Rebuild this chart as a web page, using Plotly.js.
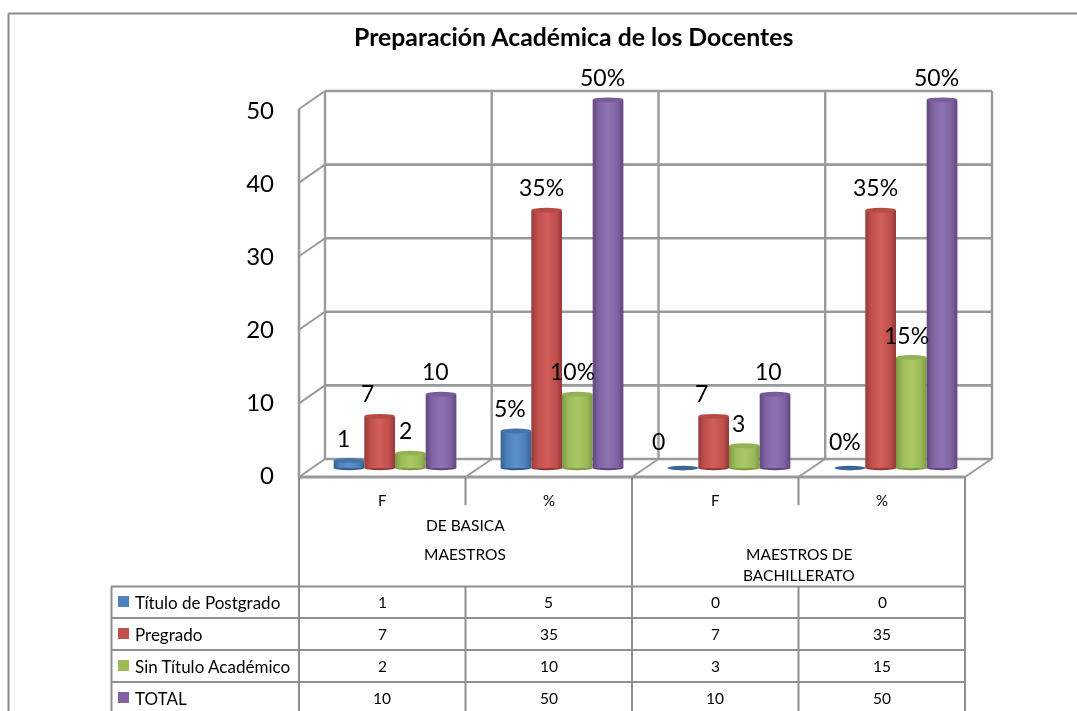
<!DOCTYPE html>
<html><head><meta charset="utf-8">
<script src="https://cdn.plot.ly/plotly-3.0.1.min.js"></script>
<style>html,body{margin:0;padding:0;background:#fff}#c{width:1077px;height:711px;filter:blur(0.4px)}</style>
</head><body><div id="c"></div>
<script>
var chartTitle = "Preparación Académica de los Docentes";
var columnLabels = ["F", "%", "F", "%"];
var seriesNames = ["Título de Postgrado", "Pregrado", "Sin Título Académico", "TOTAL"];
var postgrado = [1, 5, 0, 0];
var pregrado = [7, 35, 7, 35];
var sinTitulo = [2, 10, 3, 15];
var total = [10, 50, 10, 50];
var yTicks = [0, 10, 20, 30, 40, 50];
var groupBasica = ["DE BASICA", "MAESTROS"];
var groupBachillerato = ["MAESTROS DE", "BACHILLERATO"];
var seriesColors = ["#4f81bd", "#c0504d", "#9bbb59", "#8064a2"];
var capColors = ["#4674a8", "#b54a47", "#92b152", "#775c98"];
var gradStops = [
  ["#34608f", "#4f81bd", "#5b8fcc", "#4f81bd", "#34608f"],
  ["#96383a", "#c0504d", "#d25f5b", "#c0504d", "#96383a"],
  ["#7d9a42", "#9bbb59", "#a9c966", "#9bbb59", "#7d9a42"],
  ["#5f477f", "#8064a2", "#8f72b2", "#8064a2", "#5f477f"]
];
var allSeries = [postgrado, pregrado, sinTitulo, total];
var xIdx = [0, 1, 2, 3];
var W = 1077, H = 711;
function px(x){return x/W;}
function py(y){return 1-y/H;}
var GRID = "#9a9a9a", TABLE = "#8e8e8e";
var FONT = "Lato, Carlito, sans-serif";
var barW = 0.1838;

var shapes = [];
function line(x0,y0,x1,y1,c,w,layer){
  shapes.push({type:"line",xref:"paper",yref:"paper",x0:px(x0),y0:py(y0),x1:px(x1),y1:py(y1),
    line:{color:c,width:w},layer:layer||"below"});
}
// outer frame: left and top edges only
line(8.5,711,8.5,13.5,"#8a8a8a",2);
line(8.5,13.5,1077,13.5,"#8a8a8a",2);
// 3D walls
var backY = [459,385.4,311.8,238.2,164.6,91];
backY.forEach(function(y){
  line(325,y,992,y,GRID,2.6);
  line(299,y+18,325,y,GRID,2);
});
[325,491.7,658.5,825.2,992].forEach(function(x){ line(x,91,x,459,GRID,2.4); });
line(299,109,299,477,GRID,2.6);
[465.5,632,798.5,965].forEach(function(x){ line(x,477,x+26.5,459,GRID,2); });
line(299,477,965,477,GRID,2.8);
// table
[299,632,965].forEach(function(x){ line(x,477,x,711,TABLE,2); });
[465.5,798.5].forEach(function(x){ line(x,477,x,505,TABLE,2); line(x,587,x,711,TABLE,2); });
line(111.5,587,111.5,711,TABLE,2);
[586.5,618,650,682].forEach(function(y){ line(111,y,965,y,TABLE,2); });
// legend keys
var rowY = [602,634,666,698];
seriesColors.forEach(function(c,i){
  shapes.push({type:"rect",xref:"paper",yref:"paper",x0:px(118),x1:px(129),y0:py(rowY[i]-6),y1:py(rowY[i]+5),
    fillcolor:c,line:{width:0},layer:"above"});
});
// cylinder caps, from the values through the data axes
allSeries.forEach(function(vals,s){
  vals.forEach(function(v,k){
    var c = k + (s-1.5)*barW;
    var half = barW/2;
    shapes.push({type:"circle",xref:"x",yref:"y",x0:c-half,x1:c+half,y0:-0.3,y1:0.3,
      fillcolor:gradStops[s][0],line:{width:0},layer:"between"});
    var zero = v===0;
    shapes.push({type:"circle",xref:"x",yref:"y",x0:c-half*(zero?0.85:1),x1:c+half*(zero?0.85:1),
      y0:v-0.3,y1:v+(zero?0.25:0.35),
      fillcolor:zero?"#3a6596":capColors[s],line:{width:0},layer:"above"});
  });
});

var traces = allSeries.map(function(vals,s){
  return {type:"bar",name:seriesNames[s],x:xIdx,y:vals,xaxis:"x",yaxis:"y",
    marker:{color:seriesColors[s],line:{width:0}},hoverinfo:"skip"};
});
traces.push({type:"scatter",mode:"markers",x:[0],y:[0],xaxis:"x",yaxis:"y2",
  marker:{opacity:0,size:1},hoverinfo:"skip",showlegend:false});

var anns = [];
function note(t,x,y,size,anchor,extra){
  var a = {text:t,xref:"paper",yref:"paper",x:px(x),y:py(y),xanchor:anchor||"center",yanchor:"middle",
    showarrow:false,font:{family:FONT,size:size,color:"#000"}};
  for (var k in extra) a[k]=extra[k];
  anns.push(a);
}
note(chartTitle,573,37,24.8,"center",{font:{family:FONT,size:24.8,color:"#000",weight:700}});
// data labels
var shiftX = [[-5,-6,-24,-5],[-12,-5,-12,-5],[-5,-5,-6,-5],[-6,-6,-7,-6]];
allSeries.forEach(function(vals,s){
  vals.forEach(function(v,k){
    anns.push({text:v+(k%2?"%":""),xref:"x",yref:"y",x:k+(s-1.5)*barW,y:v,xanchor:"center",yanchor:"middle",
      showarrow:false,xshift:shiftX[s][k],yshift:23+(v===0?4:0),font:{family:FONT,size:23,color:"#000"}});
  });
});
// table text
var colCentre = [382,548.5,715,882];
columnLabels.forEach(function(t,k){ note(t,colCentre[k],500,15); });
note(groupBasica[0],465,525,15.5);
note(groupBasica[1],465,554,15.5);
note(groupBachillerato[0],799,554,15.5);
note(groupBachillerato[1],799,575,15.5);
seriesNames.forEach(function(n,i){
  note(n,133,rowY[i],17,"left");
  allSeries[i].forEach(function(v,k){ note(String(v),colCentre[k],rowY[i],15.5); });
});

// y axis extends below 0 and above 50 so the cylinder ends are not clipped
var yMin = -2, yMax = 52, pxPerUnit = 368/50;
var layout = {
  width:W,height:H,margin:{l:0,r:0,t:0,b:0,pad:0},
  paper_bgcolor:"#fff",plot_bgcolor:"rgba(0,0,0,0)",showlegend:false,
  barmode:"group",bargap:0.265,bargroupgap:0,
  xaxis:{domain:[px(311.5),px(979.5)],range:[-0.5,3.5],tickmode:"array",tickvals:xIdx,ticktext:columnLabels,
    ticks:"",showticklabels:false,showgrid:false,zeroline:false,showline:false,anchor:"y",fixedrange:true},
  yaxis:{domain:[py(468-yMin*pxPerUnit),py(468-yMax*pxPerUnit)],range:[yMin,yMax],showticklabels:false,showgrid:false,zeroline:false,ticks:"",fixedrange:true},
  yaxis2:{domain:[py(476),py(110.5)],range:[0,50],anchor:"free",position:px(274),side:"left",tickmode:"array",
    tickvals:yTicks,showgrid:false,zeroline:false,showline:false,ticks:"",
    tickfont:{family:FONT,size:24,color:"#000"},fixedrange:true},
  shapes:shapes,annotations:anns
};

Plotly.newPlot("c",traces,layout,{staticPlot:true,displayModeBar:false}).then(function(){
  var svg = document.querySelector("#c .main-svg");
  var ns = "http://www.w3.org/2000/svg";
  var defs = svg.querySelector("defs");
  gradStops.forEach(function(st,i){
    var g = document.createElementNS(ns,"linearGradient");
    g.setAttribute("id","cyl"+i);
    g.setAttribute("x1","0");g.setAttribute("x2","1");g.setAttribute("y1","0");g.setAttribute("y2","0");
    [0,0.2,0.5,0.8,1].forEach(function(o,j){
      var s = document.createElementNS(ns,"stop");
      s.setAttribute("offset",o);s.setAttribute("stop-color",st[j]);g.appendChild(s);
    });
    defs.appendChild(g);
  });
  document.querySelectorAll("#c .barlayer .trace").forEach(function(t,i){
    t.querySelectorAll(".point path").forEach(function(p){ p.style.fill = "url(#cyl"+i+")"; });
  });
});
</script></body></html>
